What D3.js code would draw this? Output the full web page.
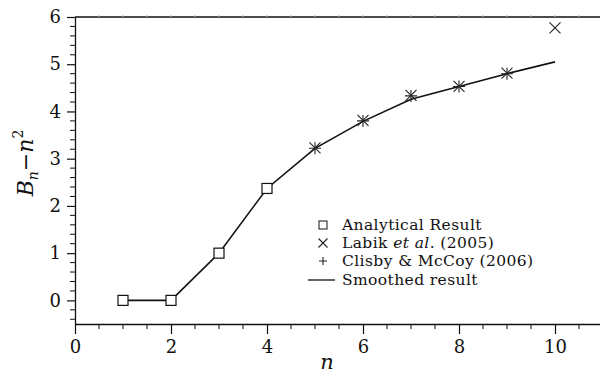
<!DOCTYPE html>
<html>
<head>
<meta charset="utf-8">
<script src="https://cdn.jsdelivr.net/npm/d3@7"></script>
<style>
  body { margin: 0; background: #fff; }
  text { font-family: "DejaVu Serif", serif; fill: #111; }
</style>
</head>
<body>
<script>
// data
var analyticalN = [1, 2, 3, 4];
var analyticalB = [0, 0, 1, 2.37];

var labikN = [5, 6, 7, 8, 9, 10];
var labikB = [3.23, 3.81, 4.34, 4.53, 4.81, 5.77];

var clisbyN = [5, 6, 7, 8, 9];
var clisbyB = [3.22, 3.80, 4.33, 4.53, 4.80];

var smoothN = [1, 2, 3, 4, 5, 6, 7, 8, 9, 10];
var smoothB = [0, 0, 1, 2.37, 3.22, 3.79, 4.26, 4.53, 4.80, 5.05];

var xTickLabels = [0, 2, 4, 6, 8, 10];
var yTickLabels = [0, 1, 2, 3, 4, 5, 6];

var legendLabels = ["Analytical Result", "Labik et al. (2005)", "Clisby & McCoy (2006)", "Smoothed result"];

// sizes
var svgWidth = 600, svgHeight = 376;
var plotLeft = 75, plotTop = 17, plotBottom = 324;

var svg = d3.select('body').append('svg')
    .attr('width', svgWidth)
    .attr('height', svgHeight);

var x = d3.scaleLinear().domain([0, 11]).range([plotLeft, 603]);
var y = d3.scaleLinear().domain([-0.5, 6]).range([plotBottom, plotTop]);

// minor ticks
var xMinor = d3.range(0, 11.01, 0.5).filter(v => xTickLabels.indexOf(v) < 0);
var yMinor = d3.range(-0.4, 5.99, 0.2).map(v => Math.round(v * 10) / 10).filter(v => yTickLabels.indexOf(v) < 0);

// bottom axis
var xAxis = svg.append('g')
    .attr('transform', `translate(0, ${plotBottom})`)
    .call(d3.axisBottom(x).tickValues(xTickLabels).tickFormat(d3.format('d'))
        .tickSize(10).tickPadding(6).tickSizeOuter(0));
xAxis.append('g').selectAll('line')
    .data(xMinor).enter().append('line')
    .attr('x1', d => x(d)).attr('x2', d => x(d))
    .attr('y1', 0).attr('y2', 5)
    .attr('stroke', '#111');

// left axis
var yAxis = svg.append('g')
    .attr('transform', `translate(${plotLeft}, 0)`)
    .call(d3.axisLeft(y).tickValues(yTickLabels).tickFormat(d3.format('d'))
        .tickSize(8).tickPadding(6).tickSizeOuter(0));
yAxis.append('g').selectAll('line')
    .data(yMinor).enter().append('line')
    .attr('y1', d => y(d)).attr('y2', d => y(d))
    .attr('x1', 0).attr('x2', -5)
    .attr('stroke', '#111');

svg.selectAll('.domain').attr('stroke', '#111').attr('stroke-width', 1.3);
svg.selectAll('.tick line').attr('stroke', '#111').attr('stroke-width', 1.2);
svg.selectAll('.tick text')
    .style('font-family', '"DejaVu Serif", serif')
    .style('font-size', '18px')
    .attr('fill', '#111');

// top border with faint ticks
svg.append('line')
    .attr('x1', plotLeft).attr('x2', 603)
    .attr('y1', plotTop).attr('y2', plotTop)
    .attr('stroke', '#111').attr('stroke-width', 1.3);
svg.append('g').selectAll('line')
    .data(d3.range(0.5, 11.01, 0.5)).enter().append('line')
    .attr('x1', d => x(d)).attr('x2', d => x(d))
    .attr('y1', plotTop).attr('y2', plotTop - 2)
    .attr('stroke', '#bbb');

// smoothed line
var smooth = smoothN.map((n, i) => [n, smoothB[i]]);
svg.append('path')
    .datum(smooth)
    .attr('d', d3.line().x(d => x(d[0])).y(d => y(d[1])))
    .attr('fill', 'none')
    .attr('stroke', '#111')
    .attr('stroke-width', 1.6);

// marker helpers
function cross(g, cx, cy, r) {
    g.append('path')
        .attr('d', `M${cx - r},${cy - r}L${cx + r},${cy + r}M${cx - r},${cy + r}L${cx + r},${cy - r}`)
        .attr('stroke', '#222').attr('stroke-width', 1.1).attr('fill', 'none');
}
function plus(g, cx, cy, r) {
    g.append('path')
        .attr('d', `M${cx - r},${cy}L${cx + r},${cy}M${cx},${cy - r}L${cx},${cy + r}`)
        .attr('stroke', '#222').attr('stroke-width', 1.1).attr('fill', 'none');
}

// analytical squares
svg.append('g').selectAll('rect')
    .data(analyticalN).enter().append('rect')
    .attr('x', d => x(d) - 5)
    .attr('y', (d, i) => y(analyticalB[i]) - 5)
    .attr('width', 10).attr('height', 10)
    .attr('fill', '#fff').attr('stroke', '#111').attr('stroke-width', 1.2);

var labikG = svg.append('g');
labikN.forEach((n, i) => cross(labikG, x(n), y(labikB[i]), 5.5));

var clisbyG = svg.append('g');
clisbyN.forEach((n, i) => plus(clisbyG, x(n), y(clisbyB[i]), 6));

// legend
var lg = svg.append('g');
var rowY = [225, 243, 261, 280];
lg.append('rect').attr('x', 319).attr('y', rowY[0] - 4).attr('width', 8).attr('height', 8)
    .attr('fill', '#fff').attr('stroke', '#111').attr('stroke-width', 1);
cross(lg, 323, rowY[1], 4.5);
plus(lg, 323, rowY[2], 4);
lg.append('line').attr('x1', 308).attr('x2', 335).attr('y1', rowY[3]).attr('y2', rowY[3])
    .attr('stroke', '#111').attr('stroke-width', 1.3);

legendLabels.forEach(function(label, i) {
    var t = lg.append('text')
        .attr('x', 342)
        .attr('y', rowY[i] + 5)
        .style('font-size', '15.5px')
        .style('letter-spacing', '0.4px');
    if (i === 1) {
        t.append('tspan').text('Labik ');
        t.append('tspan').style('font-style', 'italic').text('et al');
        t.append('tspan').text('. (2005)');
    } else {
        t.text(label);
    }
});

// axis titles
svg.append('text')
    .attr('x', 327).attr('y', 369)
    .attr('text-anchor', 'middle')
    .style('font-style', 'italic')
    .style('font-size', '21px')
    .text('n');

var yl = svg.append('text')
    .attr('transform', 'translate(33, 163) rotate(-90)')
    .attr('text-anchor', 'middle')
    .style('font-size', '22px');
yl.append('tspan').style('font-style', 'italic').text('B');
yl.append('tspan').style('font-style', 'italic').style('font-size', '14px').attr('dy', 5).text('n');
yl.append('tspan').attr('dy', -5).text('\u2212');
yl.append('tspan').style('font-style', 'italic').text('n');
yl.append('tspan').style('font-size', '14px').attr('dy', -10).text('2');
</script>
</body>
</html>
